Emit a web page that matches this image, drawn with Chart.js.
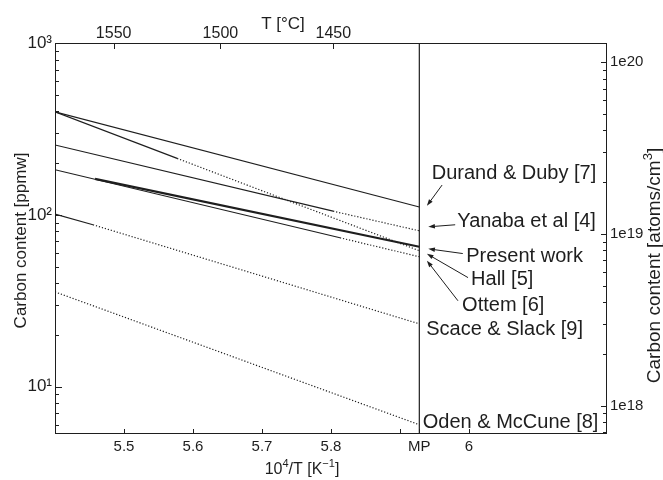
<!DOCTYPE html>
<html>
<head>
<meta charset="utf-8">
<script src="https://cdn.jsdelivr.net/npm/chart.js@4.4.1/dist/chart.umd.min.js"></script>
<style>
  html, body { margin: 0; padding: 0; background: #fff; }
  #wrap { width: 663px; height: 480px; }
</style>
</head>
<body>
<div id="wrap"><canvas id="chart" width="663" height="480"></canvas></div>
<script>
// ====== Axis setup ======
const MP_X = 5.928;                 // 10^4/T at the melting point of Si
const X_MIN = 5.4, X_MAX = 6.2;
const Y_MIN = 5.3, Y_MAX = 1000;    // ppmw
const PPMW_TO_ATOMS = 1.29e17;      // atoms/cm3 per ppmw

const X_TICKS = [5.5, 5.6, 5.7, 5.8, 5.9, MP_X, 6.0];
const X_TICK_LABELS = ['5.5', '5.6', '5.7', '5.8', '', 'MP', '6'];
const T_TICKS_C = [1550, 1500, 1450];
const Y_DECADES = [10, 100, 1000];
const Y_DECADE_LABELS = ['10¹', '10²', '10³'];
const Y2_DECADES = [1e18, 1e19, 1e20];
const Y2_DECADE_LABELS = ['1e18', '1e19', '1e20'];

// ====== Series (x = 10^4/T, y = ppmw) ======
const SERIES_NAMES = ['Durand & Duby [7]', 'Yanaba et al [4]', 'Present work', 'Hall [5]',
  'Ottem [6]', 'Scace & Slack [9]', 'Oden & McCune [8]'];
const DURAND_X = [5.4, MP_X];          const DURAND_Y = [397, 111];
const YANABA_X = [5.4, 5.803, MP_X];   const YANABA_Y = [255, 105, 80.7];
const PRESENT_X = [5.458, MP_X];       const PRESENT_Y = [162, 65.2];
const HALL_X = [5.4, 5.577, MP_X];     const HALL_Y = [397, 213, 61.8];
const OTTEM_X = [5.4, 5.813, MP_X];    const OTTEM_Y = [183, 73.5, 57.0];
const SCACE_X = [5.4, 5.455, MP_X];    const SCACE_Y = [101, 87.5, 23.2];
const ODEN_X = [5.4, MP_X];            const ODEN_Y = [35.6, 6.0];
// first segment index drawn dotted (segments before it are solid)
const DOTTED_FROM = [9, 1, 9, 1, 1, 1, 0];
const LINE_WIDTHS = [1.2, 1.2, 2.2, 1.2, 1.2, 1.2, 1.2];

// ====== Labels on the right of the MP line ======
const LABEL_X = [5.946, 5.983, 5.996, 6.003, 5.990, 5.938, 5.933];
const LABEL_Y = [173, 91, 57.5, 41.9, 29.6, 21.4, 6.18];
const ARROW_FROM_X = [5.961, 5.980, 5.991, 5.9986, 5.984];
const ARROW_FROM_Y = [149, 87.5, 59.5, 43.1, 31.6];
const ARROW_TO_X = [5.939, 5.941, 5.941, 5.939, 5.939];
const ARROW_TO_Y = [112.8, 85.1, 63.4, 59.3, 54.1];

const INK = '#1e1e1e';
const FONT = '"Liberation Sans", Arial, Helvetica, sans-serif';
const DOT = [1.2, 1.9];

// ====== Helpers ======
function logTicks(min, max) {
  const out = [];
  for (let e = Math.floor(Math.log10(min)); e <= Math.ceil(Math.log10(max)); e++) {
    for (let m = 1; m <= 9; m++) {
      const v = m * Math.pow(10, e);
      if (v >= min && v <= max) out.push({ value: v });
    }
  }
  return out;
}

function drawRich(ctx, parts, x, y, size) {
  // parts: [text, isSuperscript]; centred on x, baseline y
  const widths = parts.map(([t, sup]) => {
    ctx.font = (sup ? Math.round(size * 0.66) : size) + 'px ' + FONT;
    return ctx.measureText(t).width;
  });
  let cx = x - widths.reduce((a, b) => a + b, 0) / 2;
  parts.forEach(([t, sup], i) => {
    ctx.font = (sup ? Math.round(size * 0.66) : size) + 'px ' + FONT;
    ctx.fillText(t, cx, sup ? y - size * 0.42 : y);
    cx += widths[i];
  });
}

function arrow(ctx, x1, y1, x2, y2) {
  const a = Math.atan2(y2 - y1, x2 - x1), h = 7, w = 0.33;
  ctx.beginPath();
  ctx.moveTo(x1, y1);
  ctx.lineTo(x2 - h * 0.6 * Math.cos(a), y2 - h * 0.6 * Math.sin(a));
  ctx.stroke();
  ctx.beginPath();
  ctx.moveTo(x2, y2);
  ctx.lineTo(x2 - h * Math.cos(a - w), y2 - h * Math.sin(a - w));
  ctx.lineTo(x2 - h * Math.cos(a + w), y2 - h * Math.sin(a + w));
  ctx.closePath();
  ctx.fill();
}

// ====== Plugins ======
const frameAndTicks = {
  id: 'frameAndTicks',
  afterDatasetsDraw(chart) {
    const { ctx, chartArea: a, scales: s } = chart;
    ctx.save();
    ctx.strokeStyle = INK;
    ctx.lineWidth = 1;
    ctx.beginPath();
    s.x.ticks.forEach(t => {
      const p = Math.round(s.x.getPixelForValue(t.value)) + 0.5;
      ctx.moveTo(p, a.bottom); ctx.lineTo(p, a.bottom - 5);
    });
    s.x2.ticks.forEach(t => {
      const p = Math.round(s.x2.getPixelForValue(t.value)) + 0.5;
      ctx.moveTo(p, a.top); ctx.lineTo(p, a.top + 6);
    });
    s.y.ticks.forEach(t => {
      const p = Math.round(s.y.getPixelForValue(t.value)) + 0.5;
      const len = t.label ? 7 : 4;
      ctx.moveTo(a.left, p); ctx.lineTo(a.left + len, p);
    });
    s.y2.ticks.forEach(t => {
      const p = Math.round(s.y2.getPixelForValue(t.value)) + 0.5;
      const len = t.label ? 6 : 4;
      ctx.moveTo(a.right, p); ctx.lineTo(a.right - len, p);
    });
    ctx.stroke();
    ctx.strokeRect(a.left + 0.5, a.top + 0.5, a.right - a.left - 1, a.bottom - a.top - 1);
    ctx.restore();
  }
};

const annotations = {
  id: 'annotations',
  afterDraw(chart) {
    const { ctx, scales: s, chartArea: a } = chart;
    ctx.save();
    ctx.fillStyle = INK;
    ctx.strokeStyle = INK;
    ctx.lineWidth = 1;
    // series labels
    ctx.font = '20px ' + FONT;
    ctx.textAlign = 'left';
    ctx.textBaseline = 'middle';
    SERIES_NAMES.forEach((name, i) => {
      ctx.fillText(name, s.x.getPixelForValue(LABEL_X[i]), s.y.getPixelForValue(LABEL_Y[i]));
    });
    ARROW_FROM_X.forEach((fx, i) => {
      arrow(ctx, s.x.getPixelForValue(fx), s.y.getPixelForValue(ARROW_FROM_Y[i]),
        s.x.getPixelForValue(ARROW_TO_X[i]), s.y.getPixelForValue(ARROW_TO_Y[i]));
    });
    // axis titles
    ctx.textAlign = 'left';
    ctx.textBaseline = 'alphabetic';
    drawRich(ctx, [['10', false], ['4', true], ['/T [K', false], ['−1', true], [']', false]], 302, 474, 16);
    drawRich(ctx, [['T [°C]', false]], 283, 29, 17);
    const midY = (a.top + a.bottom) / 2;
    ctx.save();
    ctx.translate(26, midY + 2);
    ctx.rotate(-Math.PI / 2);
    drawRich(ctx, [['Carbon content [ppmw]', false]], 0, 0, 17);
    ctx.restore();
    ctx.save();
    ctx.translate(660, midY + 27);
    ctx.rotate(-Math.PI / 2);
    drawRich(ctx, [['Carbon content [atoms/cm', false], ['3', true], [']', false]], 0, 0, 19);
    ctx.restore();
    ctx.restore();
  }
};

// ====== Chart ======
const datasets = [DURAND_X, YANABA_X, PRESENT_X, HALL_X, OTTEM_X, SCACE_X, ODEN_X].map((xs, i) => {
  const ys = [DURAND_Y, YANABA_Y, PRESENT_Y, HALL_Y, OTTEM_Y, SCACE_Y, ODEN_Y][i];
  return {
    label: SERIES_NAMES[i],
    data: xs.map((x, j) => ({ x, y: ys[j] })),
    borderColor: INK,
    borderWidth: LINE_WIDTHS[i],
    pointRadius: 0,
    tension: 0,
    fill: false,
    xAxisID: 'x',
    yAxisID: 'y',
    segment: { borderDash: ctx => (ctx.p0DataIndex >= DOTTED_FROM[i] ? DOT : undefined) }
  };
});
datasets.push({
  label: 'MP',
  data: [{ x: MP_X, y: Y_MIN }, { x: MP_X, y: Y_MAX }],
  borderColor: INK,
  borderWidth: 1.2,
  pointRadius: 0,
  xAxisID: 'x',
  yAxisID: 'y'
});

const tickFont = size => ({ family: FONT, size });

new Chart(document.getElementById('chart'), {
  type: 'line',
  data: { datasets },
  options: {
    responsive: false,
    animation: false,
    events: [],
    layout: { padding: 0 },
    plugins: { legend: { display: false }, tooltip: { enabled: false } },
    scales: {
      x: {
        type: 'linear', position: 'bottom', min: X_MIN, max: X_MAX,
        grid: { display: false, drawTicks: false }, border: { display: false },
        afterBuildTicks: sc => { sc.ticks = X_TICKS.map(v => ({ value: v })); },
        afterFit: sc => { sc.height = 46; },
        ticks: { autoSkip: false, maxRotation: 0, padding: 4, color: INK, font: tickFont(15),
          callback: (v, i) => X_TICK_LABELS[i] }
      },
      x2: {
        type: 'linear', position: 'top', min: X_MIN, max: X_MAX,
        grid: { display: false, drawTicks: false }, border: { display: false },
        afterBuildTicks: sc => { sc.ticks = T_TICKS_C.map(t => ({ value: 1e4 / (t + 273.15) })); },
        afterFit: sc => { sc.height = 43; },
        ticks: { autoSkip: false, maxRotation: 0, padding: 0, color: INK, font: tickFont(16),
          callback: (v, i) => String(T_TICKS_C[i]) }
      },
      y: {
        type: 'logarithmic', position: 'left', min: Y_MIN, max: Y_MAX,
        grid: { display: false, drawTicks: false }, border: { display: false },
        afterBuildTicks: sc => { sc.ticks = logTicks(Y_MIN, Y_MAX); },
        afterFit: sc => { sc.width = 55; },
        ticks: { autoSkip: false, padding: 3, color: INK, font: tickFont(17),
          callback: v => { const k = Y_DECADES.indexOf(v); return k >= 0 ? Y_DECADE_LABELS[k] : ''; } }
      },
      y2: {
        type: 'logarithmic', position: 'right',
        min: Y_MIN * PPMW_TO_ATOMS, max: Y_MAX * PPMW_TO_ATOMS,
        grid: { display: false, drawTicks: false }, border: { display: false },
        afterBuildTicks: sc => { sc.ticks = logTicks(Y_MIN * PPMW_TO_ATOMS, Y_MAX * PPMW_TO_ATOMS); },
        afterFit: sc => { sc.width = 56; },
        ticks: { autoSkip: false, padding: 3, color: INK, font: tickFont(15),
          callback: v => { const k = Y2_DECADES.indexOf(v); return k >= 0 ? Y2_DECADE_LABELS[k] : ''; } }
      }
    }
  },
  plugins: [frameAndTicks, annotations]
});
</script>
</body>
</html>
